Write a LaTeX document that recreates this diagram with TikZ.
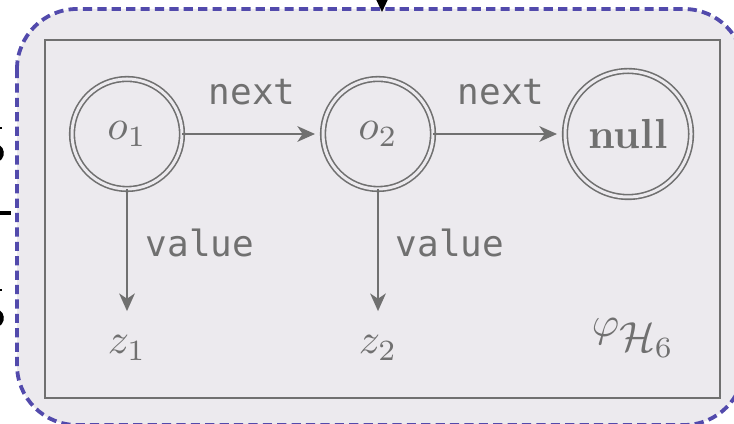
\documentclass[tikz,border=0pt]{standalone}
\usepackage{fontspec}
\setmonofont{DejaVu Sans Mono}
\usetikzlibrary{arrows.meta}

\definecolor{dashblue}{RGB}{82,74,172}
\definecolor{panel}{RGB}{236,234,238}
\definecolor{ink}{RGB}{112,112,112}

\newcommand{\bigtxt}[1]{\scalebox{1.05}{#1}}

\tikzset{
  objnode/.style={circle, draw=ink, double=panel, double distance=0.75pt,
    line width=0.4pt, inner sep=0pt, outer sep=0pt, text=ink,
    font=\fontsize{10}{12}\selectfont},
  mathlbl/.style={inner sep=0pt, text=ink, font=\fontsize{10}{12}\selectfont},
  fieldlbl/.style={inner sep=0pt, anchor=base west, text=ink,
    font=\fontsize{9}{10}\selectfont\ttfamily},
  link/.style={draw=ink, line width=0.55pt,
    -{Stealth[length=4.4pt, width=3.9pt, inset=1.3pt]}},
}

\begin{document}
\begin{tikzpicture}[x=0.25pt, y=-0.25pt]
  \useasboundingbox (0,0) rectangle (734,424);
  \fill[white] (0,0) rectangle (734,424);

  % outer dashed frame
  \draw[dashblue, fill=panel, line width=0.95pt, dash pattern=on 2.3pt off 1.3pt,
        rounded corners=15pt] (17,9) rectangle (744,425);

  % inner frame
  \draw[ink, line width=0.65pt] (45,40) rectangle (720,398);

  % objects
  \node[objnode, minimum size=27.5pt] (o1) at (127,134) {\bigtxt{$o_1$}};
  \node[objnode, minimum size=27.5pt] (o2) at (378,134) {\bigtxt{$o_2$}};
  \node[objnode, minimum size=31.5pt] (nl) at (628,134) {\bigtxt{\textbf{null}}};

  % values
  \node[mathlbl, anchor=base] (z1) at (127,354) {\bigtxt{$z_1$}};
  \node[mathlbl, anchor=base] (z2) at (378,354) {\bigtxt{$z_2$}};

  % formula name
  \node[mathlbl, anchor=base west] (phi) at (591,337) {\bigtxt{$\varphi_{\textstyle\mathcal{H}_6}$}};

  % links
  \draw[link, shorten >=2pt] (o1) -- (o2);
  \draw[link, shorten >=2pt] (o2) -- (nl);
  \draw[link, shorten >=6pt] (o1) -- (z1);
  \draw[link, shorten >=6pt] (o2) -- (z2);

  % field labels
  \node[fieldlbl] (n1) at (208,105) {next};
  \node[fieldlbl] (n2) at (457,105) {next};
  \node[fieldlbl] (v1) at (145,257) {value};
  \node[fieldlbl] (v2) at (395,257) {value};

  % incoming arrow from above
  \coordinate (intop) at (382,-60);
  \coordinate (intip) at (382,12);
  \draw[black, line width=0.8pt, -{Stealth[length=4.5pt, width=4.2pt]}] (intop) -- (intip);

  % neighbouring fraction, cut at the left edge
  \coordinate (barl) at (-20,213);
  \coordinate (barr) at (11,213);
  \draw[black, line width=0.8pt] (barl) -- (barr);
  \draw[black, line width=0.4pt] (-4,128) -- (2,128);
  \draw[black, line width=0.4pt] (-4,290) -- (2,290);
  \draw[black, line width=0.9pt] (-2,160) arc[start angle=60, end angle=-60, radius=8];
  \draw[black, line width=0.9pt] (-2,325) arc[start angle=60, end angle=-60, radius=8];
\end{tikzpicture}
\end{document}
